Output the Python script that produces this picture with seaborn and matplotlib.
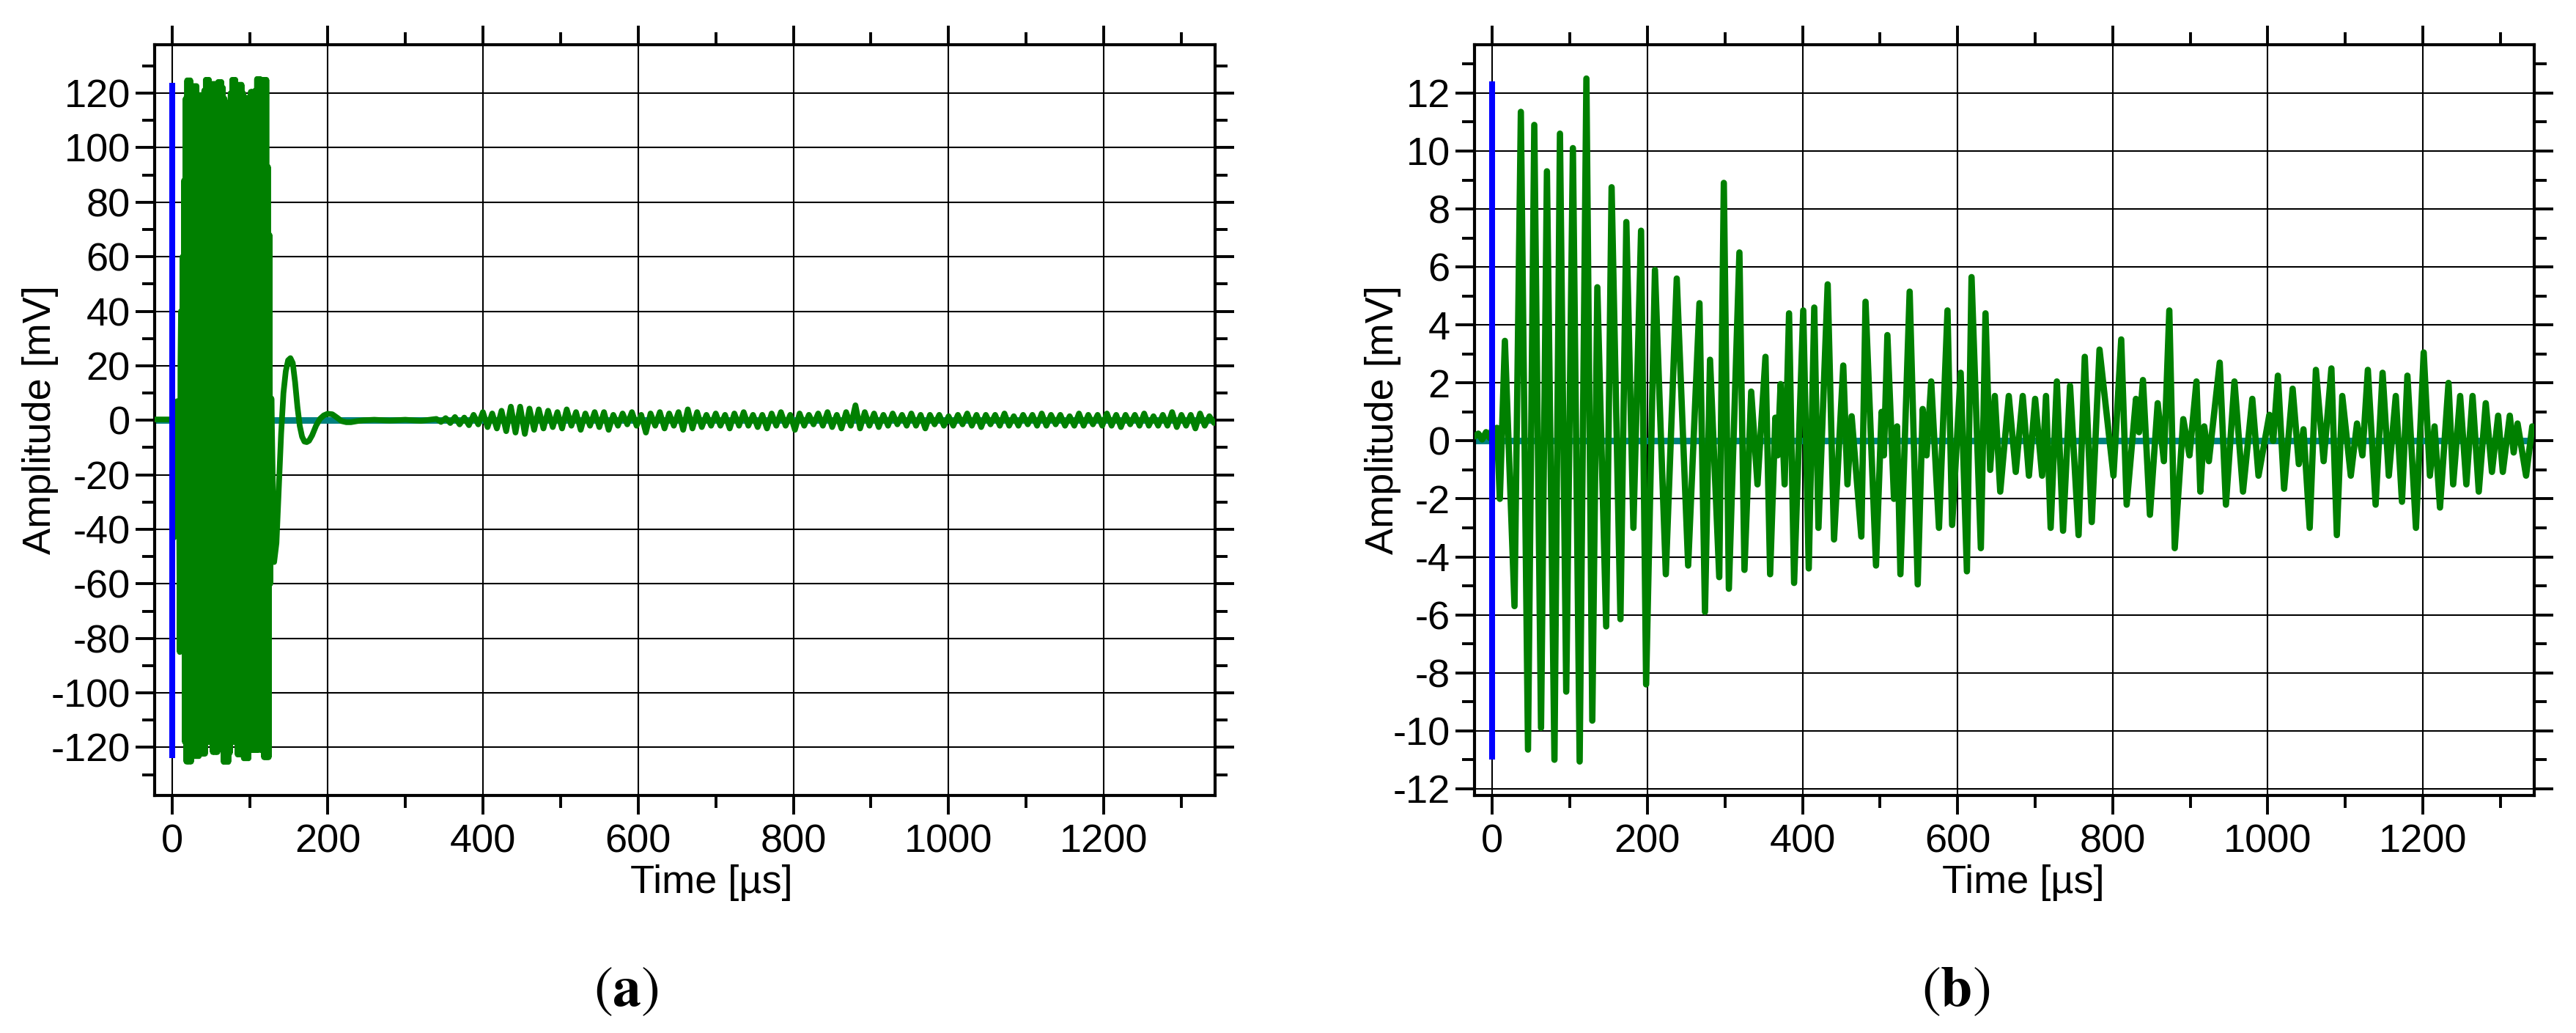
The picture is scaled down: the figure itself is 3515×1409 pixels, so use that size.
import numpy as np
import pandas as pd
import matplotlib
matplotlib.use("Agg")
import matplotlib.pyplot as plt
from matplotlib.ticker import MultipleLocator
import seaborn as sns

# ---------------- data ----------------
# panel (a): trigger region before the saturated burst
a_early_t = [-23, -0.5, 0.5, 2, 3.5, 6, 8, 9.5, 10.3]
a_early_amp = [0.3, 0.3, 1, -43, 6, 7, 5, -85, 20]

# panel (a): saturated burst, one sample per microsecond starting at 11 us,
# upper swings (odd us) and lower swings (even us)
a_burst_start = 11
a_burst_top = [40, 60, 88, 118, 124.7, 124.7, 124.7, 120, 122.6, 122.6,
               122.6, 119, 119.3, 119.3, 119.3, 121, 124.9, 124.9, 124.9, 120,
               123.4, 123.4, 123.4, 121, 124.1, 124.1, 124.1, 122, 118, 116.4,
               116.4, 116.4, 120, 124.9, 124.9, 124.9, 115.4, 123.1, 123.1, 123.1,
               120, 118.3, 118.3, 118.3, 78, 120.5, 120.5, 120.5, 121, 125.2,
               125.2, 125.2, 112.8, 124.9, 124.9, 124.9, 93, 68]
a_burst_bottom = [-25, -45, -118, -125.2, -125.2, -125.2, -125.2, -123.2, -123.2, -123.2,
                  -123.2, -123.2, -122.3, -122.3, -122.3, -122.3, -117.2, -118, -118, -118,
                  -121.7, -121.7, -121.7, -121.7, -113.5, -113.5, -113.5, -125.3, -125.3, -125.3,
                  -125.3, -122, -118, -118, -118, -118, -122.6, -122.6, -122.6, -122.6,
                  -124, -124, -124, -124, -120.5, -121, -121, -121, -121, -121,
                  -120.5, -121, -121, -123.6, -123.6, -123.6, -123.6]

# panel (a): ring-down after the burst
a_ring_t = [126, 127.5, 131, 134, 137, 140, 143, 146, 149, 152, 155, 158, 161, 164,
            167, 170, 173, 176, 180, 185, 190, 195, 200, 206, 212, 218, 224, 230,
            238, 246, 260, 280, 300, 320, 334]
a_ring_amp = [-60, 8, -52, -45, -25, -5, 10, 18, 22, 22.8, 21, 14, 5, -2,
              -6, -7.8, -8, -7.5, -5.5, -2, 0.5, 1.8, 2.4, 2.2, 1, -0.3, -0.7, -0.7,
              -0.3, 0, 0.2, -0.1, 0.2, -0.2, 0.3]

# panel (a): low-level tail, one swing every 6 us from 340 us
a_tail_start = 340
a_tail_step = 6
a_tail_amp = [0.5, -0.6, 0.8, -1, 1.2, -1.5, 1, -1.8, 2, -1.5,
              3, -2.5, 2.5, -3, 3.5, -4, 5, -4.5, 5, -5,
              4.3, -3.5, 4, -3, 3.5, -2.5, 3, -3, 4, -2,
              3, -3.5, 2.5, -2, 3, -2.5, 3, -3.5, 2, -2,
              2.5, -1.5, 3, -2, 2, -4.5, 2.5, -2, 3, -3,
              2.5, -2, 3, -3.5, 4, -3, 3, -2.5, 2, -2,
              2.5, -2, 2, -3, 2.5, -2, 3, -2, 2, -2.5,
              2, -3, 2.5, -2, 3, -2, 2, -3.5, 2.5, -2,
              2, -1.5, 2.5, -2, 3, -2.5, 2, -3, 3, -2,
              5.5, -3, 3, -2, 2.5, -2.5, 2, -2, 2.5, -1.5,
              2, -2, 2.5, -2, 2, -3, 2, -1.5, 2, -2,
              1.5, -2, 2, -1.5, 2.5, -2, 2, -2.5, 2, -1.5,
              2, -2, 2.5, -2, 1.5, -2, 2, -1.5, 2, -2,
              2.5, -2, 2, -1.5, 2, -2, 1.5, -2, 2.5, -2,
              2, -1.5, 2, -2, 2.5, -2, 2, -2.5, 2, -1.5,
              2, -2, 2.5, -2, 1.5, -2, 2, -2, 3, -2.5,
              2, -2, 2, -3, 2.5, -2, 1.5, -1]

# panel (b): peaks and troughs of the weaker signal
b_time = [-23, -18, -13, -8, -3, 0, 3, 6, 9.8, 16.3,
          28.7, 36.9, 46.1, 54.2, 62.9, 70.5, 80.2, 87.3, 95.4, 104,
          112.7, 121.4, 129, 135.5, 146.9, 153.9, 165.3, 172.9, 182, 191.9,
          198.4, 209.8, 223.8, 237.9, 252.6, 267.2, 274.3, 280.8, 292.7, 298.6,
          305.1, 318.7, 325.2, 333.9, 342, 352.3, 358.3, 365, 368, 371.8,
          377, 382.7, 389.2, 401, 408.1, 415.2, 420.6, 432.5, 440.7, 452.6,
          458, 463.4, 475.9, 481.3, 494.8, 502, 505, 509.5, 518, 522,
          526.3, 538.2, 548.6, 555, 560, 566, 576, 587, 593, 604,
          612, 618, 630, 636, 642, 648, 655, 666, 675, 684,
          692, 700, 709, 714, 720, 728, 736, 745, 756, 764,
          773, 783, 801, 811, 818, 830, 834, 839, 848, 858,
          866, 873, 880, 891, 899, 908, 913, 918, 924, 938,
          946, 957, 968, 980, 988, 1002, 1007, 1013, 1021, 1032,
          1040, 1046, 1054, 1062, 1072, 1082, 1089, 1096, 1107, 1115,
          1122, 1129, 1139, 1148, 1156, 1165, 1173, 1180, 1191, 1201,
          1209, 1215, 1222, 1233, 1239, 1248, 1256, 1264, 1272, 1281,
          1289, 1297, 1303, 1312, 1317, 1322, 1333, 1341, 1343]
b_amp = [0.15, 0.25, 0.05, 0.3, 0.1, 0.4, 0.0, 0.45, -2.0, 3.45,
         -5.7, 11.35, -10.65, 10.9, -9.9, 9.3, -11.0, 10.6, -8.65, 10.1,
         -11.06, 12.5, -9.65, 5.3, -6.4, 8.75, -6.15, 7.55, -3.0, 7.25,
         -8.4, 5.9, -4.6, 5.6, -4.3, 4.75, -5.9, 2.8, -4.7, 8.9,
         -5.1, 6.5, -4.45, 1.7, -1.5, 2.9, -4.6, 0.8, -0.5, 1.96,
         -1.5, 4.4, -4.9, 4.5, -4.4, 4.6, -3.0, 5.4, -3.4, 2.6,
         -1.5, 0.85, -3.3, 4.8, -4.3, 1.0, -0.5, 3.65, -2.0, 0.5,
         -4.6, 5.15, -4.95, 1.1, -0.5, 2.05, -3.0, 4.5, -2.9, 2.35,
         -4.5, 5.65, -3.7, 4.4, -1.0, 1.55, -1.75, 1.55, -1.07, 1.55,
         -1.2, 1.45, -1.2, 1.55, -3.0, 2.05, -3.1, 1.9, -3.25, 2.9,
         -2.8, 3.15, -1.2, 3.5, -2.2, 1.45, 0.3, 2.1, -2.55, 1.3,
         -0.7, 4.5, -3.7, 0.75, -0.5, 2.05, -1.75, 0.5, -0.7, 2.7,
         -2.2, 2.05, -1.75, 1.45, -1.2, 0.9, 0.0, 2.25, -1.65, 1.8,
         -0.8, 0.4, -3.0, 2.45, -0.7, 2.5, -3.25, 1.55, -1.2, 0.6,
         -0.5, 2.45, -2.2, 2.35, -1.2, 1.55, -2.1, 2.25, -3.0, 3.05,
         -1.2, 0.5, -2.3, 2.0, -1.5, 1.55, -1.5, 1.55, -1.75, 1.3,
         -1.07, 0.87, -1.07, 0.87, -0.4, 0.6, -1.2, 0.5, 0.3]

# blue trigger marker at t = 0 (bottom, top) for each panel
a_trigger = (-123.8, 123.7)
b_trigger = (-11.0, 12.4)

x_range = (-23, 1343.5)
a_range = (-137.6, 137.8)
b_range = (-12.23, 13.67)

GREEN = "#008000"
TEAL = "#008080"
BLUE = "#0000ff"


def panel_a_frame():
    n = len(a_burst_top) + len(a_burst_bottom)
    burst_t = a_burst_start + np.arange(n)
    burst_amp = np.empty(n)
    burst_amp[0::2] = a_burst_top
    burst_amp[1::2] = a_burst_bottom
    tail_t = a_tail_start + a_tail_step * np.arange(len(a_tail_amp))
    t = np.concatenate([a_early_t, burst_t, a_ring_t, tail_t])
    amp = np.concatenate([a_early_amp, burst_amp, a_ring_amp, a_tail_amp])
    return pd.DataFrame({"time": t, "amp": amp})


def style_axes(ax, ylim, ymajor, yminor):
    ax.set_xlim(*x_range)
    ax.set_ylim(*ylim)
    ax.xaxis.set_major_locator(MultipleLocator(200))
    ax.xaxis.set_minor_locator(MultipleLocator(100))
    ax.yaxis.set_major_locator(MultipleLocator(ymajor))
    ax.yaxis.set_minor_locator(MultipleLocator(yminor))
    ax.grid(True, which="major", color="black", linewidth=0.75)
    ax.grid(False, which="minor")
    ax.set_axisbelow(True)
    ax.tick_params(which="both", direction="out", top=True, right=True,
                   labeltop=False, labelright=False, width=1.4, color="black",
                   labelcolor="black", labelsize=19.5)
    ax.tick_params(which="major", length=9.4)
    ax.tick_params(which="minor", length=6)
    ax.tick_params(axis="x", which="major", pad=4.5)
    ax.tick_params(axis="y", which="major", pad=2.5)
    for s in ax.spines.values():
        s.set_visible(True)
        s.set_linewidth(1.5)
        s.set_color("black")
    ax.set_xlabel("Time [µs]", fontsize=19.5, color="black")
    ax.set_ylabel("Amplitude [mV]", fontsize=19.5, color="black")


def draw_panel(ax, df, trigger, lw):
    ax.axhline(0, color=TEAL, linewidth=3.2, zorder=2)
    sns.lineplot(data=df, x="time", y="amp", ax=ax, color=GREEN, linewidth=lw,
                 estimator=None, sort=False, errorbar=None, zorder=3)
    ax.vlines(0, trigger[0], trigger[1], color=BLUE, linewidth=2.9, zorder=4)


def main():
    sns.set_style("ticks")
    plt.rcParams["font.family"] = ["Liberation Sans", "DejaVu Sans"]
    plt.rcParams["axes.unicode_minus"] = False
    plt.rcParams["mathtext.fontset"] = "stix"
    plt.rcParams["text.color"] = "black"
    plt.rcParams["axes.labelcolor"] = "black"
    plt.rcParams["xtick.color"] = "black"
    plt.rcParams["ytick.color"] = "black"

    fig = plt.figure(figsize=(3516 / 200, 1409 / 200), dpi=200)
    ax1 = fig.add_axes([0.0600, 0.2300, 0.4116, 0.7268])
    ax2 = fig.add_axes([0.5722, 0.2300, 0.4113, 0.7268])

    draw_panel(ax1, panel_a_frame(), a_trigger, 2.8)
    assert len(b_time) == len(b_amp)
    draw_panel(ax2, pd.DataFrame({"time": b_time, "amp": b_amp}), b_trigger, 3.1)

    style_axes(ax1, a_range, 20, 10)
    style_axes(ax2, b_range, 2, 1)

    ax1.xaxis.set_label_coords(0.525, -0.092)
    ax2.xaxis.set_label_coords(0.518, -0.092)
    ax1.yaxis.set_label_coords(-0.0905, 0.5)
    ax2.yaxis.set_label_coords(-0.069, 0.5)

    fig.text(0.243, 0.041, r"$(\mathbf{a})$", ha="center", va="center", fontsize=28)
    fig.text(0.759, 0.041, r"$(\mathbf{b})$", ha="center", va="center", fontsize=28)

    fig.savefig("out.png", dpi=200)


if __name__ == "__main__":
    main()
